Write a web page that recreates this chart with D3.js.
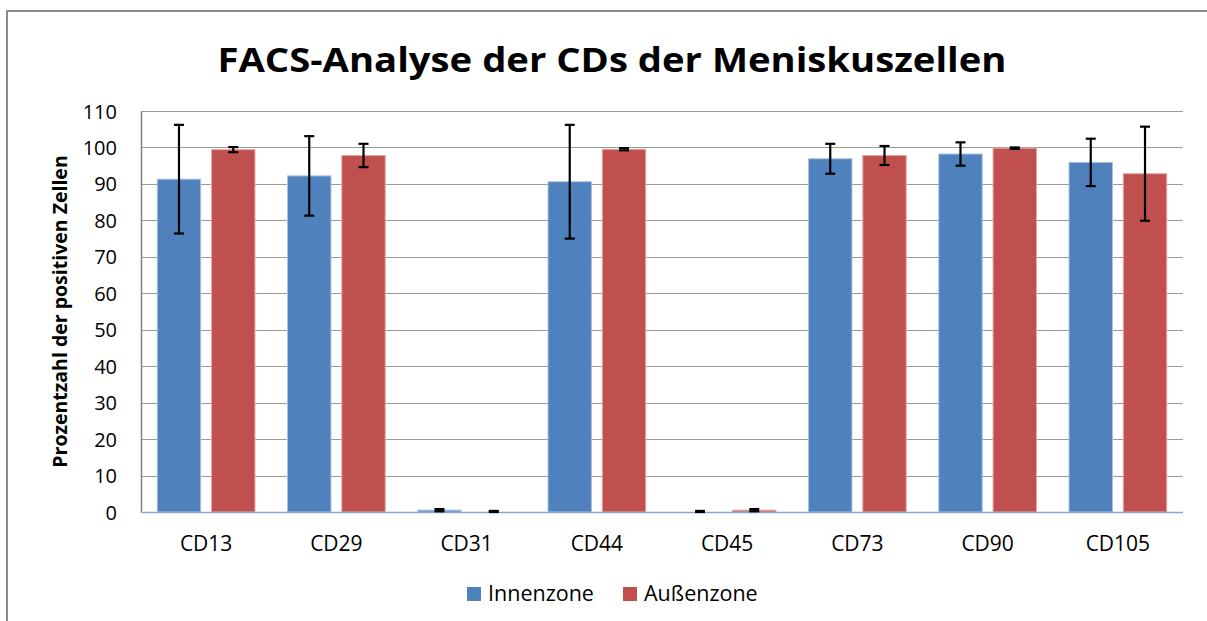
<!DOCTYPE html>
<html>
<head>
<meta charset="utf-8">
<script src="https://cdn.jsdelivr.net/npm/d3@7"></script>
<style>
  body { margin: 0; background: #fff; }
  text { font-family: "Open Sans", "Noto Sans", sans-serif; fill: #000; }
</style>
</head>
<body>
<svg id="chart" width="1207" height="621"></svg>
<script>
(function() {
  var categories, innen, innenErr, aussen, aussenErr, seriesNames, seriesColors, yTicks;

  categories = ['CD13', 'CD29', 'CD31', 'CD44', 'CD45', 'CD73', 'CD90', 'CD105'];
  innen = [91.3, 92.2, 0.5, 90.6, 0.0, 96.9, 98.2, 95.9];
  innenErr = [14.9, 10.9, 0.3, 15.6, 0.3, 4.1, 3.2, 6.5];
  aussen = [99.4, 97.8, 0.0, 99.5, 0.5, 97.8, 99.8, 92.8];
  aussenErr = [0.7, 3.2, 0.3, 0.3, 0.3, 2.6, 0.2, 12.9];
  seriesNames = ['Innenzone', 'Außenzone'];
  seriesColors = ['#4F81BD', '#C0504D'];
  yTicks = [0, 10, 20, 30, 40, 50, 60, 70, 80, 90, 100, 110];

  var svg = d3.select('#chart');
  var left = 141, right = 1183, top = 111, bottom = 512;

  // outer frame (only left and top visible)
  svg.append('rect').attr('x', 7).attr('y', 11).attr('width', 1260).attr('height', 700)
    .attr('fill', 'none').attr('stroke', '#8c8c8c').attr('stroke-width', 2);

  svg.append('text').attr('x', 612).attr('y', 72).attr('text-anchor', 'middle')
    .attr('font-size', 34).attr('font-weight', 'bold')
    .attr('textLength', 789).attr('lengthAdjust', 'spacingAndGlyphs')
    .text('FACS-Analyse der CDs der Meniskuszellen');

  var y = d3.scaleLinear().domain([0, 110]).range([bottom, top]);
  var x0 = d3.scaleBand().domain(categories).range([left, right]).paddingInner(0.25).paddingOuter(0.125);
  var x1 = d3.scaleBand().domain([0, 1]).range([0, x0.bandwidth()]).paddingInner(0.2);

  // gridlines
  svg.append('g').selectAll('line').data(yTicks.slice(1)).enter().append('line')
    .attr('x1', left).attr('x2', right)
    .attr('y1', function(d) { return Math.round(y(d)) + 0.5; })
    .attr('y2', function(d) { return Math.round(y(d)) + 0.5; })
    .attr('stroke', '#9a9a9a').attr('stroke-width', 1.2);

  // y axis
  var yAxis = svg.append('g').attr('transform', 'translate(' + left + ',0)')
    .call(d3.axisLeft(y).tickValues(yTicks).tickSize(0).tickPadding(24));
  yAxis.select('.domain').attr('stroke', '#7f7f7f').attr('stroke-width', 1.5);
  yAxis.selectAll('text').attr('font-size', 20).attr('fill', '#111').attr('dy', '0.35em')
    .attr('font-family', '"Open Sans", sans-serif');

  svg.append('text').attr('transform', 'translate(67,' + ((top + bottom) / 2) + ') rotate(-90)')
    .attr('text-anchor', 'middle').attr('font-size', 19.5).attr('font-weight', 'bold')
    .text('Prozentzahl der positiven Zellen');

  var rows = [];
  categories.forEach(function(c, i) {
    rows.push({ cat: c, s: 0, v: innen[i], e: innenErr[i] });
    rows.push({ cat: c, s: 1, v: aussen[i], e: aussenErr[i] });
  });

  svg.append('g').selectAll('rect').data(rows).enter().append('rect')
    .attr('x', function(d) { return x0(d.cat) + x1(d.s); })
    .attr('y', function(d) { return y(d.v); })
    .attr('width', x1.bandwidth())
    .attr('height', function(d) { return y(0) - y(d.v); })
    .attr('fill', function(d) { return seriesColors[d.s]; })
    .attr('stroke', function(d) { return d.s === 0 ? '#a9c1e0' : '#e3a8a6'; })
    .attr('stroke-width', 1);

  // x axis line
  svg.append('line').attr('x1', left).attr('x2', right).attr('y1', bottom + 0.5).attr('y2', bottom + 0.5)
    .attr('stroke', '#8aa6c8').attr('stroke-width', 1.5);

  // error bars
  var eb = svg.append('g').attr('stroke', '#000').attr('stroke-width', 2.2);
  rows.forEach(function(d) {
    var cx = x0(d.cat) + x1(d.s) + x1.bandwidth() / 2;
    var y1 = y(d.v + d.e), y2 = y(Math.max(0, d.v - d.e));
    eb.append('line').attr('x1', cx).attr('x2', cx).attr('y1', y1).attr('y2', y2);
    eb.append('line').attr('x1', cx - 5).attr('x2', cx + 5).attr('y1', y1).attr('y2', y1);
    eb.append('line').attr('x1', cx - 5).attr('x2', cx + 5).attr('y1', y2).attr('y2', y2);
  });

  // category labels
  svg.append('g').selectAll('text').data(categories).enter().append('text')
    .attr('x', function(d) { return x0(d) + x0.bandwidth() / 2; })
    .attr('y', 551).attr('text-anchor', 'middle').attr('font-size', 21)
    .text(function(d) { return d; });

  // legend
  var legX = [467, 623];
  var leg = svg.append('g').selectAll('g').data(seriesNames).enter().append('g')
    .attr('transform', function(d, i) { return 'translate(' + legX[i] + ',587)'; });
  leg.append('rect').attr('width', 14).attr('height', 14)
    .attr('fill', function(d, i) { return seriesColors[i]; });
  leg.append('text').attr('x', 21).attr('y', 14).attr('font-size', 21.5)
    .attr('fill', '#222').text(function(d) { return d; });
})();
</script>
</body>
</html>
